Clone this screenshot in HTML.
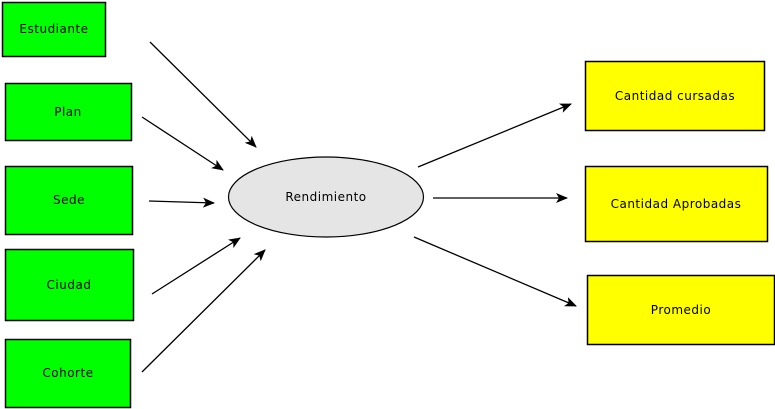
<!DOCTYPE html>
<html><head><meta charset="utf-8"><style>
html,body{margin:0;padding:0;background:#fff;width:775px;height:409px;overflow:hidden}
</style></head><body>
<svg width="775" height="409" xmlns="http://www.w3.org/2000/svg" font-family="DejaVu Sans, Liberation Sans, sans-serif" font-size="12" letter-spacing="0.5">
<defs><marker id="a" markerWidth="12" markerHeight="10" refX="11" refY="5" orient="auto" markerUnits="userSpaceOnUse"><path d="M0,0 L12,5 L0,10 L3,5 Z" fill="#000"/></marker></defs>
<g stroke="#000" stroke-width="1.5" fill="#00ff00">
<rect x="2.5" y="2.5" width="103" height="54"/>
<rect x="5.5" y="83.5" width="126" height="57"/>
<rect x="5.5" y="166.5" width="127" height="68"/>
<rect x="5.5" y="249.5" width="128" height="71"/>
<rect x="5.5" y="339.5" width="125" height="68"/>
</g>
<g stroke="#000" stroke-width="1.5" fill="#ffff00">
<rect x="585.5" y="61.5" width="179" height="69"/>
<rect x="585.5" y="166.5" width="182" height="75"/>
<rect x="587.5" y="275.5" width="187" height="69"/>
</g>
<ellipse cx="326" cy="197" rx="97.5" ry="40" fill="#e5e5e5" stroke="#000" stroke-width="1.2"/>
<g text-anchor="middle" fill="#000">
<text x="54" y="33">Estudiante</text>
<text x="68" y="116">Plan</text>
<text x="69" y="204">Sede</text>
<text x="69" y="289">Ciudad</text>
<text x="68" y="377">Cohorte</text>
<text x="326" y="201">Rendimiento</text>
<text x="675" y="100">Cantidad cursadas</text>
<text x="676" y="208">Cantidad Aprobadas</text>
<text x="681" y="314">Promedio</text>
</g>
<g stroke="#000" stroke-width="1.3" marker-end="url(#a)">
<line x1="150" y1="42" x2="256" y2="147"/>
<line x1="142" y1="117" x2="223" y2="170"/>
<line x1="149" y1="201" x2="214" y2="203"/>
<line x1="152" y1="294" x2="240" y2="238"/>
<line x1="142" y1="372" x2="265" y2="250"/>
<line x1="418" y1="167" x2="571" y2="104"/>
<line x1="433" y1="198" x2="567" y2="198"/>
<line x1="414" y1="237" x2="576" y2="306"/>
</g>
</svg>
</body></html>
